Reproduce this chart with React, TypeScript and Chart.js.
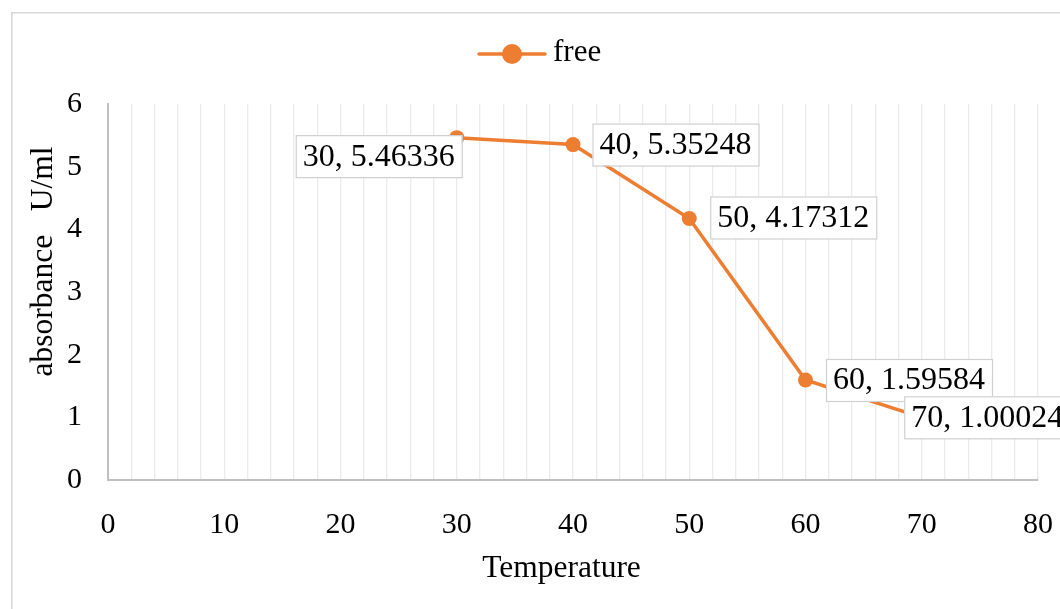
import React, { useEffect, useRef } from "react";
import { Chart, registerables } from "chart.js";

Chart.register(...registerables);

const temperatures = [30, 40, 50, 60, 70];
const absorbance = [5.46336, 5.35248, 4.17312, 1.59584, 1.00024];
const seriesName = "free";
const xTickLabels = [0, 10, 20, 30, 40, 50, 60, 70, 80];
const yTickLabels = [0, 1, 2, 3, 4, 5, 6];
const xTitle = "Temperature";
const yTitle = "absorbance   U/ml";

const FONT = "'Liberation Serif', 'Times New Roman', serif";
const ORANGE = "#ED7D31";

// label box placement relative to its point: [dx to box left, dy of box centre]
const labelPlacement: [number, number][] = [
  [-161, 18.5],
  [19.5, 0],
  [21, -1],
  [20.5, 0],
  [-17.5, 0],
];

const decorPlugin = {
  id: "decor",
  beforeDraw(chart: any) {
    const ctx = chart.ctx;
    ctx.save();
    ctx.fillStyle = "#ffffff";
    ctx.fillRect(0, 0, chart.width, chart.height);
    ctx.strokeStyle = "#d9d9d9";
    ctx.lineWidth = 1.6;
    ctx.beginPath();
    ctx.moveTo(11.8, chart.height);
    ctx.lineTo(11.8, 12.8);
    ctx.lineTo(chart.width, 12.8);
    ctx.stroke();
    ctx.restore();
  },
  afterDraw(chart: any) {
    const ctx = chart.ctx;
    ctx.save();
    // legend
    const ly = 54;
    ctx.strokeStyle = ORANGE;
    ctx.lineWidth = 3.5;
    ctx.lineCap = "round";
    ctx.beginPath();
    ctx.moveTo(479, ly);
    ctx.lineTo(545, ly);
    ctx.stroke();
    ctx.fillStyle = ORANGE;
    ctx.beginPath();
    ctx.arc(512, ly, 10, 0, Math.PI * 2);
    ctx.fill();
    ctx.fillStyle = "#000000";
    ctx.font = `31px ${FONT}`;
    ctx.textAlign = "left";
    ctx.textBaseline = "alphabetic";
    ctx.fillText(seriesName, 553, 61);

    // axis titles
    ctx.font = `31.5px ${FONT}`;
    ctx.textAlign = "center";
    ctx.fillText(xTitle, 561.5, 577);
    ctx.save();
    ctx.translate(44, 261.5);
    ctx.rotate(-Math.PI / 2);
    ctx.textBaseline = "middle";
    ctx.fillText(yTitle, 0, 0);
    ctx.restore();

    // data labels
    const meta = chart.getDatasetMeta(0);
    ctx.font = `32px ${FONT}`;
    ctx.textBaseline = "middle";
    ctx.textAlign = "left";
    meta.data.forEach((pt: any, i: number) => {
      const text = `${temperatures[i]}, ${absorbance[i]}`;
      const w = ctx.measureText(text).width + 14;
      const h = 42;
      const [dx, dy] = labelPlacement[i];
      const left = pt.x + dx;
      const top = pt.y + dy - h / 2;
      ctx.fillStyle = "#ffffff";
      ctx.fillRect(left, top, w, h);
      ctx.strokeStyle = "#d0d0d0";
      ctx.lineWidth = 1.2;
      ctx.strokeRect(left + 0.5, top + 0.5, w, h);
      ctx.fillStyle = "#000000";
      ctx.fillText(text, left + 7, top + h / 2 + 1);
    });
    ctx.restore();
  },
};

export default function App() {
  const ref = useRef<HTMLCanvasElement | null>(null);
  useEffect(() => {
    if (!ref.current) return;
    const chart = new Chart(ref.current, {
      type: "line",
      data: {
        datasets: [
          {
            label: seriesName,
            data: temperatures.map((t, i) => ({ x: t, y: absorbance[i] })),
            borderColor: ORANGE,
            backgroundColor: ORANGE,
            borderWidth: 3.5,
            pointRadius: 7.5,
            pointHoverRadius: 7.5,
            pointBackgroundColor: ORANGE,
            pointBorderWidth: 0,
            tension: 0,
          },
        ],
      },
      options: {
        animation: false,
        responsive: false,
        layout: { padding: { left: 0, top: 104, right: 22, bottom: 0 } },
        plugins: {
          legend: { display: false },
          tooltip: { enabled: false },
        },
        scales: {
          x: {
            type: "linear",
            min: 0,
            max: 80,
            afterFit(scale: any) {
              scale.height = 129;
              scale.paddingLeft = 0;
              scale.paddingRight = 0;
            },
            ticks: {
              stepSize: 2,
              autoSkip: false,
              maxTicksLimit: 100,
              maxRotation: 0,
              padding: 27,
              color: "#000000",
              font: { family: FONT, size: 30 },
              callback: (v: any) => (xTickLabels.includes(Number(v)) ? String(v) : ""),
            },
            grid: { color: "#ebebeb", lineWidth: 1.3, drawTicks: false },
            border: { color: "#bfbfbf", width: 2 },
          },
          y: {
            min: 0,
            max: 6,
            afterFit(scale: any) {
              scale.width = 108;
              scale.paddingTop = 0;
              scale.paddingBottom = 0;
            },
            ticks: {
              stepSize: 1,
              padding: 26,
              color: "#000000",
              font: { family: FONT, size: 30 },
              callback: (v: any) => (yTickLabels.includes(Number(v)) ? String(v) : ""),
            },
            grid: { display: false, drawTicks: false },
            border: { color: "#bfbfbf", width: 2 },
          },
        },
      },
      plugins: [decorPlugin],
    });
    return () => chart.destroy();
  }, []);
  return (
    <div style={{ position: "fixed", left: 0, top: 0, width: 1060, height: 609 }}>
      <canvas ref={ref} width={1060} height={609} style={{ display: "block" }} />
    </div>
  );
}
